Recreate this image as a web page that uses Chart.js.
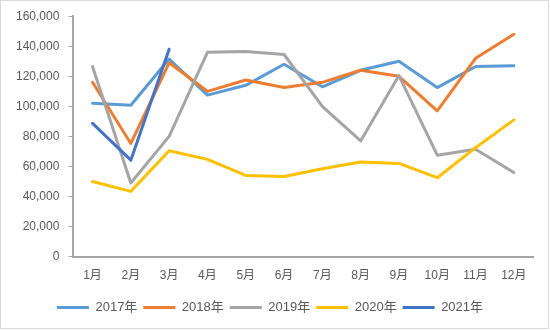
<!DOCTYPE html>
<html>
<head>
<meta charset="utf-8">
<script src="https://cdn.jsdelivr.net/npm/chart.js@4/dist/chart.umd.min.js"></script>
<style>
  body { margin: 0; background: #fff; }
  #wrap { position: relative; width: 550px; height: 330px; }
  #frame { position: absolute; left: 0; top: 0; width: 547px; height: 327px; border: 1px solid #d9d9d9; pointer-events: none; }
</style>
</head>
<body>
<div id="wrap">
  <canvas id="mycanvas" width="550" height="330"></canvas>
  <div id="frame"></div>
</div>
<script>
var months = ['1月', '2月', '3月', '4月', '5月', '6月', '7月', '8月', '9月', '10月', '11月', '12月'];
var y2017 = [102000, 100700, 131500, 107500, 114000, 128000, 113000, 124000, 130000, 112500, 126500, 127000];
var y2018 = [116000, 75300, 129000, 110000, 117500, 112500, 116000, 124000, 120000, 97000, 132000, 148000];
var y2019 = [126500, 49000, 80000, 136000, 136500, 134500, 100000, 77000, 120500, 67500, 71500, 56000];
var y2020 = [50000, 43400, 70500, 64700, 54000, 53300, 58500, 63000, 62000, 52500, 72500, 91000];
var y2021 = [88700, 64200, 138000];
var seriesNames = ['2017年', '2018年', '2019年', '2020年', '2021年'];
var colors = ['#5B9BD5', '#ED7D31', '#A5A5A5', '#FFC000', '#4472C4'];

var fontFamily = "'Liberation Sans', 'Noto Sans CJK SC', sans-serif";
var axisColor = '#a6a6a6';
var textColor = '#595959';

var allData = [y2017, y2018, y2019, y2020, y2021];
var datasets = [];
for (var i in allData) {
    datasets.push({
        label: seriesNames[i],
        data: allData[i],
        borderColor: colors[i],
        backgroundColor: colors[i],
        borderWidth: 3,
        pointRadius: 0,
        tension: 0,
        borderCapStyle: 'round',
        borderJoinStyle: 'round',
        order: allData.length - i
    });
}

var ctx = document.getElementById('mycanvas');
var lineGraph = new Chart(ctx, {
    type: 'line',
    data: { labels: months, datasets: datasets },
    options: {
        responsive: false,
        animation: false,
        layout: { padding: { left: 7, right: 17, top: 9, bottom: 6 } },
        plugins: {
            tooltip: { enabled: false },
            legend: {
                position: 'bottom',
                labels: {
                    usePointStyle: true,
                    pointStyle: 'line',
                    pointStyleWidth: 32,
                    boxHeight: 12,
                    padding: 6,
                    color: textColor,
                    font: { family: fontFamily, size: 13 },
                    sort: function (a, b) { return a.datasetIndex - b.datasetIndex; }
                }
            }
        },
        scales: {
            x: {
                offset: true,
                grid: { drawOnChartArea: false, drawTicks: false },
                border: { color: axisColor, width: 2 },
                ticks: { color: textColor, padding: 12, font: { family: fontFamily, size: 12 }, maxRotation: 0, autoSkip: false }
            },
            y: {
                min: 0,
                max: 160000,
                grid: { drawOnChartArea: false, drawTicks: true, tickLength: 5, color: axisColor },
                border: { color: axisColor, width: 2 },
                ticks: {
                    stepSize: 20000,
                    padding: 9,
                    color: textColor,
                    font: { family: fontFamily, size: 12 },
                    callback: function (v) { return v.toLocaleString('en-US'); }
                }
            }
        }
    }
});
</script>
</body>
</html>
